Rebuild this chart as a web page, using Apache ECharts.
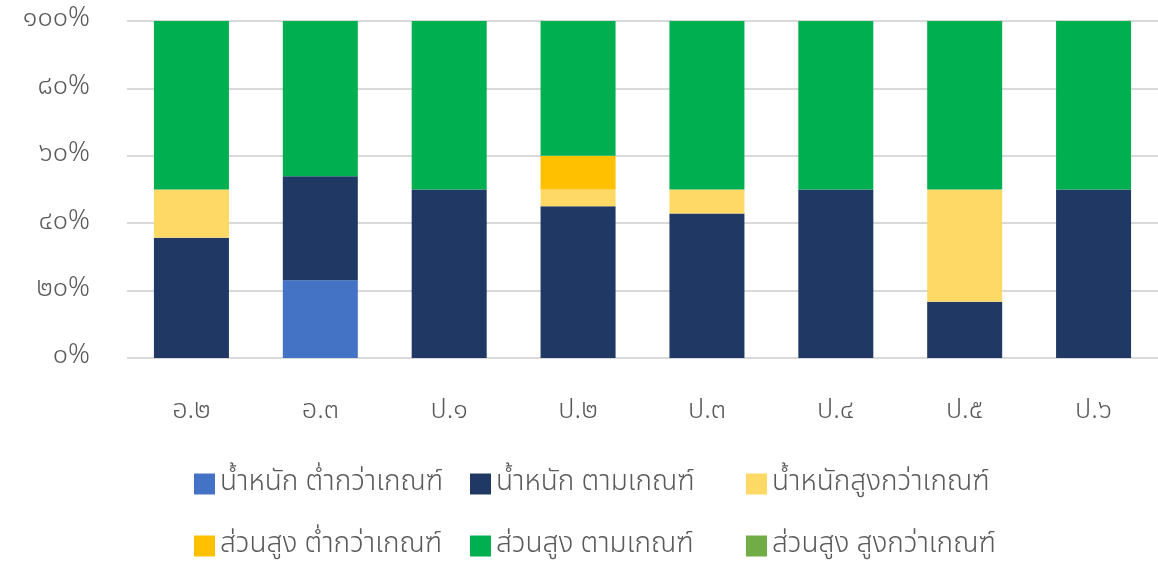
<!DOCTYPE html>
<html>
<head>
<meta charset="utf-8">
<script src="https://cdn.jsdelivr.net/npm/echarts@6/dist/echarts.min.js"></script>
<style>
html,body{margin:0;padding:0;background:#fff;}
#main{width:1158px;height:562px;}
</style>
</head>
<body>
<div id="main"></div>
<script>
// ชั้นเรียน
var categories = ['อ.๒', 'อ.๓', 'ป.๑', 'ป.๒', 'ป.๓', 'ป.๔', 'ป.๕', 'ป.๖'];
// ร้อยละ (อ่านจากภาพ)
var wLow = [0, 23.1, 0, 0, 0, 0, 0, 0];
var wNormal = [35.7, 30.8, 50, 45, 42.9, 50, 16.7, 50];
var wHigh = [14.3, 0, 0, 5, 7.1, 0, 33.3, 0];
var hLow = [0, 0, 0, 10, 0, 0, 0, 0];
var hNormal = [50, 46.1, 50, 40, 50, 50, 50, 50];
var hHigh = [0, 0, 0, 0, 0, 0, 0, 0];
var yTickLabels = ['๐%', '๒๐%', '๔๐%', '๖๐%', '๘๐%', '๑๐๐%'];

var seriesNames = ['น้ำหนัก ต่ำกว่าเกณฑ์', 'น้ำหนัก ตามเกณฑ์', 'น้ำหนักสูงกว่าเกณฑ์',
                   'ส่วนสูง ต่ำกว่าเกณฑ์', 'ส่วนสูง ตามเกณฑ์', 'ส่วนสูง สูงกว่าเกณฑ์'];
var seriesData = [wLow, wNormal, wHigh, hLow, hNormal, hHigh];
var colors = ['#4472C4', '#1F3864', '#FFD966', '#FFC000', '#00B050', '#70AD47'];

var font = "'Noto Sans Thai', 'Noto Sans', sans-serif";

var series = [];
for (var i = 0; i < seriesNames.length; i++) {
	series.push({
		name: seriesNames[i],
		type: 'bar',
		stack: 'total',
		barWidth: 75,
		itemStyle: { color: colors[i] },
		data: seriesData[i]
	});
}

var myChart = echarts.init(document.getElementById('main'));
var option = {
	animation: false,
	color: colors,
	textStyle: { fontFamily: font },
	grid: { left: 127, top: 21, width: 1039, height: 337, containLabel: false },
	xAxis: {
		type: 'category',
		data: categories,
		axisLine: { show: false },
		axisTick: { show: false },
		axisLabel: { margin: 41, fontSize: 27, fontWeight: 300, color: '#595959', fontFamily: font }
	},
	yAxis: {
		type: 'value',
		min: 0,
		max: 100,
		interval: 20,
		axisLine: { show: false },
		axisTick: { show: false },
		splitLine: { lineStyle: { color: '#D9D9D9', width: 2 } },
		axisLabel: {
			margin: 37,
			fontSize: 27,
			fontWeight: 300,
			color: '#595959',
			fontFamily: font,
			formatter: function (v) { return yTickLabels[Math.round(v / 20)]; }
		}
	},
	legend: {
		left: 189,
		top: 458,
		width: 860,
		itemWidth: 21,
		itemHeight: 21,
		itemGap: 20,
		itemTextGap: 9,
		icon: 'rect',
		textStyle: { fontSize: 28, fontWeight: 300, color: '#595959', width: 230, lineHeight: 42, fontFamily: font },
		data: seriesNames
	},
	series: series
};
myChart.setOption(option, true);
</script>
</body>
</html>
